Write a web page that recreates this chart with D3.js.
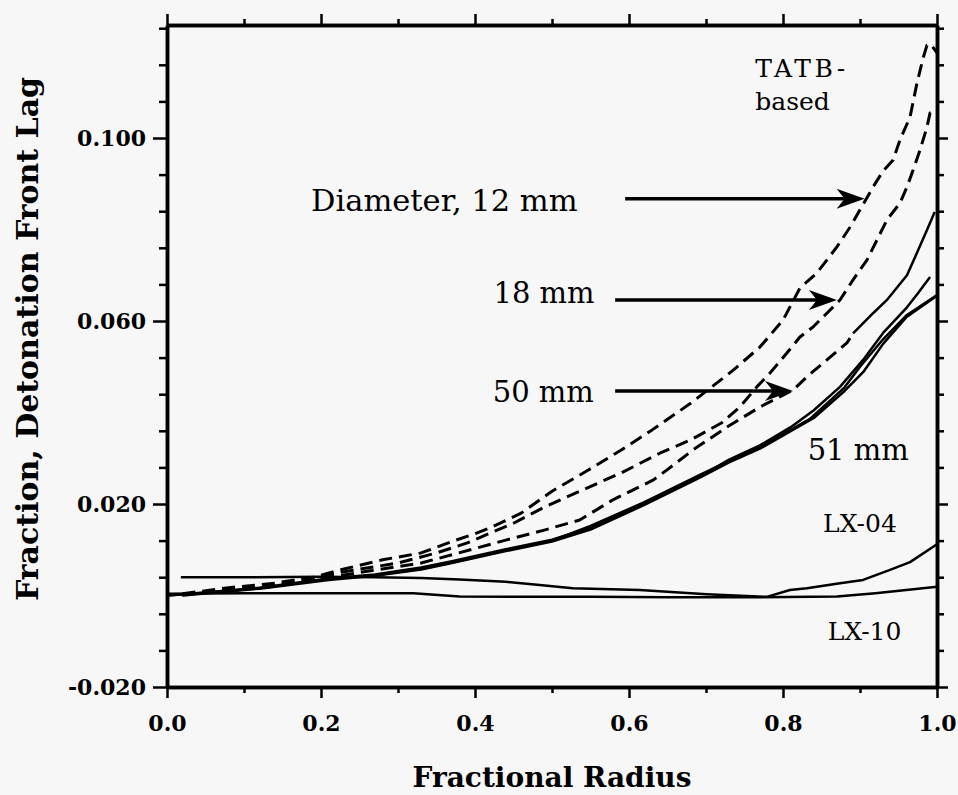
<!DOCTYPE html>
<html>
  <head>
    <meta charset="UTF-8">
    <script src="https://cdn.jsdelivr.net/npm/d3@7"></script>
    <style>
      body {
        margin: 0;
        background-color: #f7f7f7;
      }
      svg {
        display: block;
      }
      .axis text {
        font-family: 'DejaVu Serif', serif;
        font-weight: bold;
        font-size: 22px;
        fill: #000;
      }
      .axis .domain {
        stroke: #000;
        stroke-width: 3.5;
      }
      .axis line {
        stroke: #000;
        stroke-width: 2.5;
      }
      .note {
        font-family: 'DejaVu Serif', serif;
        fill: #000;
      }
      .title {
        font-family: 'DejaVu Serif', serif;
        font-weight: bold;
        fill: #000;
      }
    </style>
  </head>
  <body>
    <svg id="chart" width="958" height="795"></svg>

    <script>
      /* lag curves, [fractional radius, fraction lag] */
      var tatb12 = [[0.02,0.0004],[0.08,0.0017],[0.14,0.0027],[0.19,0.0040],[0.23,0.0058],[0.28,0.0078],
        [0.33,0.0093],[0.37,0.0118],[0.40,0.0135],[0.42,0.0148],[0.46,0.0180],[0.50,0.0228],[0.545,0.0272],
        [0.59,0.0318],[0.63,0.0362],[0.68,0.0420],[0.735,0.0492],[0.77,0.0543],[0.80,0.0602],[0.822,0.0672],
        [0.844,0.0705],[0.87,0.0762],[0.887,0.0805],[0.90,0.0843],[0.917,0.0893],[0.93,0.0928],[0.943,0.0952],
        [0.952,0.0996],[0.965,0.1046],[0.974,0.1120],[0.982,0.1175],[0.987,0.1203],[0.992,0.1205],[1.0,0.1186]];

      var tatb18 = [[0.02,0.0003],[0.08,0.0013],[0.14,0.0023],[0.23,0.0052],[0.30,0.0071],[0.35,0.0093],
        [0.39,0.0115],[0.45,0.0158],[0.49,0.0193],[0.54,0.0231],[0.59,0.0268],[0.64,0.0311],[0.68,0.0340],
        [0.72,0.0377],[0.744,0.0412],[0.766,0.0456],[0.783,0.0486],[0.805,0.0530],[0.822,0.0565],[0.839,0.0587],
        [0.857,0.0617],[0.874,0.0646],[0.891,0.0690],[0.909,0.0733],[0.922,0.0777],[0.935,0.0821],[0.952,0.0858],
        [0.961,0.0893],[0.969,0.0930],[0.978,0.0974],[0.987,0.1024],[0.991,0.1055],[1.0,0.1061]];

      var tatb50 = [[0.02,0.0001],[0.08,0.0011],[0.14,0.0020],[0.23,0.0045],[0.33,0.0071],[0.37,0.0089],
        [0.44,0.0121],[0.49,0.0143],[0.536,0.0165],[0.579,0.0209],[0.631,0.0252],[0.649,0.0274],[0.683,0.0318],
        [0.727,0.0368],[0.77,0.0412],[0.813,0.0449],[0.831,0.0478],[0.857,0.0515],[0.883,0.0552],[0.891,0.0573],
        [0.917,0.0617],[0.935,0.0646],[0.961,0.0700],[0.974,0.0749],[0.987,0.0799],[0.997,0.0838]];

      var tatb51a = [[0.0,0.0],[0.06,0.0008],[0.12,0.0017],[0.21,0.0037],[0.27,0.0046],[0.33,0.0061],
        [0.37,0.0075],[0.44,0.0101],[0.50,0.0122],[0.55,0.0148],[0.62,0.0200],[0.69,0.0258],[0.73,0.0297],
        [0.77,0.0328],[0.81,0.0368],[0.84,0.0405],[0.874,0.0456],[0.904,0.0515],[0.93,0.0574],[0.961,0.0630],
        [0.975,0.0660],[0.991,0.0696]];

      var tatb51b = [[0.0,0.0],[0.06,0.0007],[0.12,0.0016],[0.21,0.0036],[0.27,0.0044],[0.33,0.0058],
        [0.37,0.0072],[0.44,0.0099],[0.50,0.0120],[0.55,0.0152],[0.62,0.0204],[0.69,0.0262],[0.73,0.0294],
        [0.77,0.0324],[0.81,0.0362],[0.835,0.0386],[0.88,0.0455],[0.90,0.0500],[0.93,0.0560],[0.96,0.0612],
        [1.0,0.0657]];

      var tatb51c = [[0.02,0.0],[0.06,0.0006],[0.12,0.0015],[0.21,0.0034],[0.27,0.0043],[0.33,0.0057],
        [0.37,0.0071],[0.44,0.0097],[0.50,0.0118],[0.55,0.0144],[0.62,0.0198],[0.69,0.0256],[0.73,0.0291],
        [0.77,0.0321],[0.81,0.0359],[0.84,0.0388],[0.88,0.0447],[0.905,0.0490],[0.93,0.0550],[0.96,0.0608],
        [1.0,0.0655]];

      var lx04 = [[0.018,0.0040],[0.10,0.0040],[0.20,0.0041],[0.27,0.0040],[0.33,0.0038],[0.38,0.0035],
        [0.44,0.0030],[0.484,0.0023],[0.527,0.0016],[0.614,0.0012],[0.701,0.0003],[0.779,-0.0003],
        [0.809,0.0012],[0.831,0.0016],[0.874,0.0027],[0.904,0.0034],[0.939,0.0056],[0.965,0.0073],[1.0,0.0112]];

      var lx10 = [[0.0,0.0004],[0.10,0.0005],[0.20,0.0005],[0.32,0.0005],[0.38,-0.0002],[0.45,-0.0003],
        [0.55,-0.0003],[0.65,-0.0004],[0.75,-0.0004],[0.87,-0.0002],[0.92,0.0005],[0.96,0.0012],[1.0,0.0019]];

      /* ticks */
      var xTicks = [0, 0.1, 0.2, 0.3, 0.4, 0.5, 0.6, 0.7, 0.8, 0.9, 1.0];
      var xLabels = [0, 0.2, 0.4, 0.6, 0.8, 1.0];
      var yTicks = d3.range(0, 19).map(function(i) { return -0.02 + i * 0.008; });
      var yLabels = [-0.02, 0.02, 0.06, 0.10];

      /* annotations: arrow from / to radius at a lag level, and text anchors */
      var arrows = [
        {from: 0.595, to: 0.906, lag: 0.0867},
        {from: 0.582, to: 0.870, lag: 0.0646},
        {from: 0.582, to: 0.813, lag: 0.0447}
      ];
      var labels = [
        {text: "Diameter, 12 mm", r: 0.187, lag: 0.0840, size: 30.5},
        {text: "18 mm", r: 0.424, lag: 0.0639, size: 29},
        {text: "50 mm", r: 0.423, lag: 0.0423, size: 29},
        {text: "51 mm", r: 0.832, lag: 0.0296, size: 29},
        {text: "TATB-", r: 0.764, lag: 0.1133, size: 25, spacing: 3.5},
        {text: "based", r: 0.764, lag: 0.1061, size: 25},
        {text: "LX-04", r: 0.852, lag: 0.0139, size: 25},
        {text: "LX-10", r: 0.858, lag: -0.0097, size: 25}
      ];

      var svg = d3.select("#chart"),
          margin = {top: 25, right: 21, bottom: 108, left: 167},
          width = svg.attr("width") - margin.left - margin.right,
          height = svg.attr("height") - margin.top - margin.bottom,
          g = svg.append("g").attr("transform", "translate(" + margin.left + "," + margin.top + ")");

      var x = d3.scaleLinear().range([0, width]).domain([0, 1]),
          y = d3.scaleLinear().range([height, 0]).domain([-0.02, 0.1247]);

      function isMajorX(d) { return xLabels.some(function(v) { return Math.abs(v - d) < 1e-9; }); }
      function isMajorY(d) { return yLabels.some(function(v) { return Math.abs(v - d) < 1e-9; }); }
      var xMinor = xTicks.filter(function(d) { return !isMajorX(d); }),
          yMinor = yTicks.filter(function(d) { return !isMajorY(d); });

      /* axes on all four sides, ticks outside */
      g.append("g").attr("class", "axis")
        .attr("transform", "translate(0," + height + ")")
        .call(d3.axisBottom(x).tickValues(xMinor).tickSize(6).tickSizeOuter(0).tickFormat(""));
      g.append("g").attr("class", "axis")
        .attr("transform", "translate(0," + height + ")")
        .call(d3.axisBottom(x).tickValues(xLabels).tickSize(11).tickSizeOuter(0).tickPadding(17)
          .tickFormat(function(d) { return d.toFixed(1); }));

      g.append("g").attr("class", "axis")
        .call(d3.axisTop(x).tickValues(xMinor).tickSize(6).tickSizeOuter(0).tickFormat(""));
      g.append("g").attr("class", "axis")
        .call(d3.axisTop(x).tickValues(xLabels).tickSize(11).tickSizeOuter(0).tickFormat(""));

      g.append("g").attr("class", "axis")
        .call(d3.axisLeft(y).tickValues(yMinor).tickSize(8).tickSizeOuter(0).tickFormat(""));
      g.append("g").attr("class", "axis")
        .call(d3.axisLeft(y).tickValues(yLabels).tickSize(14).tickSizeOuter(0).tickPadding(7)
          .tickFormat(function(d) { return d.toFixed(3); }));

      g.append("g").attr("class", "axis")
        .attr("transform", "translate(" + width + ",0)")
        .call(d3.axisRight(y).tickValues(yMinor).tickSize(7).tickSizeOuter(0).tickFormat(""));
      g.append("g").attr("class", "axis")
        .attr("transform", "translate(" + width + ",0)")
        .call(d3.axisRight(y).tickValues(yLabels).tickSize(11).tickSizeOuter(0).tickFormat(""));

      g.selectAll(".axis .tick text").attr("fill", "#000");

      /* curves */
      var line = d3.line()
        .x(function(d) { return x(d[0]); })
        .y(function(d) { return y(d[1]); });

      function drawCurve(data, dashed, w) {
        g.append("path")
          .datum(data)
          .attr("fill", "none")
          .attr("stroke", "#000")
          .attr("stroke-width", w)
          .attr("stroke-linejoin", "round")
          .attr("stroke-dasharray", dashed ? "13,7" : null)
          .attr("d", line);
      }

      drawCurve(lx10, false, 2.5);
      drawCurve(lx04, false, 2.5);
      drawCurve(tatb51a, false, 2.5);
      drawCurve(tatb51b, false, 2.5);
      drawCurve(tatb51c, false, 2.5);
      drawCurve(tatb12, true, 3);
      drawCurve(tatb18, true, 3);
      // the 50 mm trace runs solid over its last stretch
      drawCurve(tatb50.filter(function(d) { return d[0] <= 0.891; }), true, 3);
      drawCurve(tatb50.filter(function(d) { return d[0] >= 0.891; }), false, 2.5);

      /* arrows */
      arrows.forEach(function(a) {
        var tx = x(a.to), ty = y(a.lag);
        g.append("line")
          .attr("x1", x(a.from)).attr("x2", tx - 14)
          .attr("y1", ty).attr("y2", ty)
          .attr("stroke", "#000")
          .attr("stroke-width", 3.5);
        g.append("path")
          .attr("d", "M0,0 L-28,-10 L-20,0 L-28,10 Z")
          .attr("transform", "translate(" + tx + "," + ty + ")")
          .attr("fill", "#000");
      });

      /* text labels */
      labels.forEach(function(l) {
        g.append("text")
          .attr("class", "note")
          .attr("x", x(l.r))
          .attr("y", y(l.lag))
          .style("font-size", l.size + "px")
          .style("letter-spacing", l.spacing ? l.spacing + "px" : null)
          .text(l.text);
      });

      /* axis titles */
      svg.append("text")
        .attr("class", "title")
        .attr("text-anchor", "middle")
        .style("font-size", "28px")
        .attr("x", margin.left + width / 2)
        .attr("y", 787)
        .text("Fractional Radius");

      svg.append("text")
        .attr("class", "title")
        .attr("text-anchor", "middle")
        .style("font-size", "30px")
        .attr("transform", "translate(38,339) rotate(-90)")
        .text("Fraction, Detonation Front Lag");
    </script>
  </body>
</html>
